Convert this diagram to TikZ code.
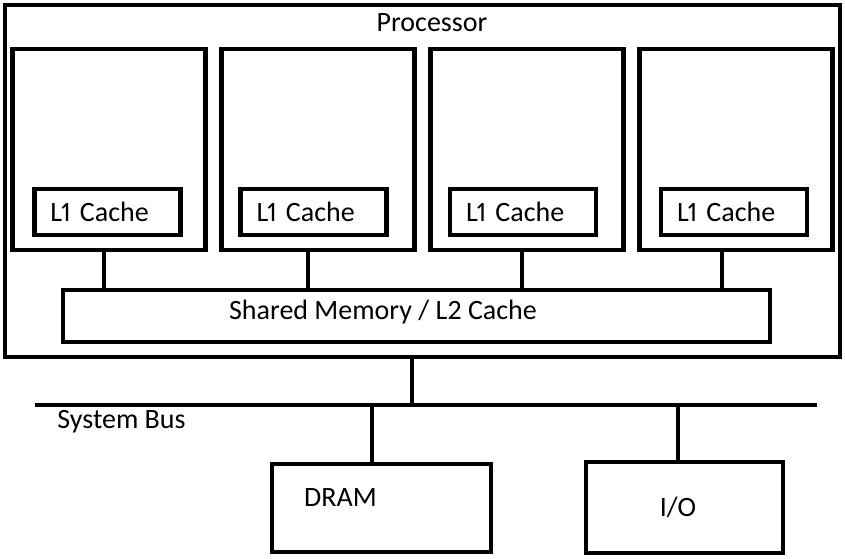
\documentclass[tikz,border=0pt]{standalone}
\usepackage{fontspec}
\setmainfont[Numbers=Proportional]{Carlito}
\usetikzlibrary{positioning}

\begin{document}
\begin{tikzpicture}[x=1bp,y=-1bp,line width=4.5bp,node distance=209bp,
  font=\fontsize{28bp}{34bp}\selectfont,
  box/.style={draw,rectangle,inner sep=0pt},
  core/.style={box,minimum width=193bp,minimum height=201bp},
  cache/.style={box,minimum width=146bp,minimum height=46bp,text width=114bp,inner xsep=16bp,align=left}]

  \useasboundingbox (0,0) rectangle (845,559);

  % the chip
  \node[box,minimum width=835bp,minimum height=352bp] (proc) at (422.5,181) {};
  \node (proclabel) at (432,23) {Processor};

  \node[core] (core1) at (109,149.5) {};
  \node[core] (core2) [right of=core1] {};
  \node[core] (core3) [right of=core2] {};
  \node[core] (core4) [right of=core3] {};

  \node[cache] (l1a) at (107.5,212) {L1 Cache};
  \node[cache] (l1b) at (313.5,212) {L1 Cache};
  \node[cache] (l1c) at (523,212) {L1 Cache};
  \node[cache] (l1d) at (734,212) {L1 Cache};

  \node[box,minimum width=707bp,minimum height=52bp] (shared) at (416.5,316) {};
  \node (sharedlabel) at (383,312) {Shared Memory / L2 Cache};

  \draw (core1.south -| 104,0) -- (shared.north -| 104,0);
  \draw (core2.south -| 308,0) -- (shared.north -| 308,0);
  \draw (core3.south -| 522,0) -- (shared.north -| 522,0);
  \draw (core4.south -| 722,0) -- (shared.north -| 722,0);

  % bus and what hangs off it
  \coordinate (busL) at (35,405);
  \coordinate (busR) at (817,405);
  \draw (busL) -- (busR);
  \node (buslabel) at (121.5,421.5) {System Bus};
  \draw (proc.south -| 412,0) -- (busL -| 412,0);

  \node[box,minimum width=219bp,minimum height=88bp] (dram) at (381.5,508) {};
  \node (dramlabel) at (340.5,498) {DRAM};
  \node[box,minimum width=197bp,minimum height=91bp] (io) at (684.5,507.5) {};
  \node (iolabel) at (678,507) {I/O};

  \draw (busL -| 372,0) -- (dram.north -| 372,0);
  \draw (busL -| 678,0) -- (io.north -| 678,0);
\end{tikzpicture}
\end{document}
